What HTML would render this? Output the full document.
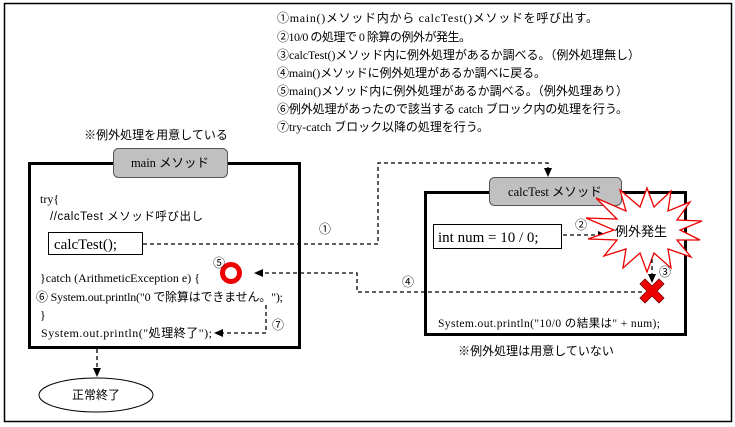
<!DOCTYPE html>
<html><head><meta charset="utf-8">
<style>
html,body{margin:0;padding:0;background:#fff;}
svg{display:block;}
.s{font-family:"Liberation Serif","Noto Sans CJK JP",serif;}
.g{font-family:"Liberation Sans","Noto Sans CJK JP",sans-serif;}
</style></head>
<body>
<svg width="735" height="427" viewBox="0 0 735 427" xmlns="http://www.w3.org/2000/svg">
<rect x="0" y="0" width="735" height="427" fill="#fff"/>
<rect x="4.5" y="3.5" width="727" height="418" fill="none" stroke="#000" stroke-width="1.5"/>

<!-- numbered list -->
<g class="s" font-size="12" fill="#000">
<text x="277" y="22" textLength="321" lengthAdjust="spacing">①main()メソッド内から calcTest()メソッドを呼び出す。</text>
<text x="277" y="41" textLength="194" lengthAdjust="spacing">②10/0 の処理で 0 除算の例外が発生。</text>
<text x="277" y="59" textLength="363" lengthAdjust="spacing">③calcTest()メソッド内に例外処理があるか調べる。（例外処理無し）</text>
<text x="277" y="77" textLength="269" lengthAdjust="spacing">④main()メソッドに例外処理があるか調べに戻る。</text>
<text x="277" y="95" textLength="351" lengthAdjust="spacing">⑤main()メソッド内に例外処理があるか調べる。（例外処理あり）</text>
<text x="277" y="113" textLength="351" lengthAdjust="spacing">⑥例外処理があったので該当する catch ブロック内の処理を行う。</text>
<text x="277" y="131" textLength="212" lengthAdjust="spacing">⑦try-catch ブロック以降の処理を行う。</text>
</g>

<text class="g" x="156" y="139" font-size="12" text-anchor="middle">※例外処理を用意している</text>

<!-- main box -->
<rect x="29.5" y="163.5" width="270" height="184" fill="none" stroke="#000" stroke-width="3"/>
<rect x="113.5" y="148.5" width="114" height="29" rx="5" fill="#c0c0c0" stroke="#555" stroke-width="1"/>
<text class="s" x="170" y="167" font-size="12.5" text-anchor="middle">main メソッド</text>

<g class="s" font-size="12" fill="#000">
<text x="40" y="203">try{</text>
<text class="g" x="50" y="220" font-size="11.5" textLength="153" lengthAdjust="spacing">//calcTest メソッド呼び出し</text>
<text x="40" y="282" textLength="160" lengthAdjust="spacing">}catch (ArithmeticException e) {</text>
<text x="36" y="301" textLength="247" lengthAdjust="spacing">⑥ System.out.println("0 で除算はできません。");</text>
<text x="40" y="319">}</text>
<text x="41" y="337" textLength="171" lengthAdjust="spacing">System.out.println("処理終了");</text>
</g>
<rect x="48.5" y="232.5" width="94" height="22" fill="#fff" stroke="#000" stroke-width="1"/>
<text class="s" x="54" y="249" font-size="15">calcTest();</text>

<!-- red O -->
<circle cx="231" cy="273" r="8.5" fill="none" stroke="#e00" stroke-width="5"/>
<text class="s" x="219" y="267" font-size="12" text-anchor="middle">⑤</text>

<!-- arrow 7 -->
<path d="M266 305 V333 H222" fill="none" stroke="#000" stroke-width="1.3" stroke-dasharray="4 3"/>
<polygon points="214,333 223,329 223,337" fill="#000"/>
<text class="s" x="278" y="329" font-size="12" text-anchor="middle">⑦</text>

<!-- down arrow to end -->
<path d="M97 349 V368" fill="none" stroke="#000" stroke-width="1.3" stroke-dasharray="4 3"/>
<polygon points="97,377 93,368 101,368" fill="#000"/>
<ellipse cx="96" cy="395" rx="57" ry="17" fill="#fff" stroke="#000" stroke-width="1"/>
<text class="g" x="96" y="399" font-size="12" text-anchor="middle">正常終了</text>

<!-- line 1 -->
<path d="M143 244 H378 V163 H548 V169" fill="none" stroke="#000" stroke-width="1.3" stroke-dasharray="4 3"/>
<polygon points="548,177 544,168 552,168" fill="#000"/>
<text class="s" x="325" y="233" font-size="12" text-anchor="middle">①</text>

<!-- calcTest box -->
<rect x="425.5" y="192.5" width="260" height="142" fill="none" stroke="#000" stroke-width="3"/>
<rect x="489.5" y="177.5" width="132" height="28" rx="5" fill="#c0c0c0" stroke="#555" stroke-width="1"/>
<text class="s" x="555" y="196" font-size="12.5" text-anchor="middle">calcTest メソッド</text>

<rect x="433.5" y="224.5" width="128" height="24" fill="#fff" stroke="#000" stroke-width="1"/>
<text class="s" x="438" y="242" font-size="15">int num = 10 / 0;</text>

<!-- arrow 2 -->
<path d="M563 235 H598" fill="none" stroke="#000" stroke-width="1.3" stroke-dasharray="4 3"/>
<polygon points="607,235 598,231 598,239" fill="#000"/>
<text class="s" x="581" y="229" font-size="12" text-anchor="middle">②</text>

<!-- star burst -->
<polygon points="647,188 654,207 671,191 668,211 690,202 677,220 702,221 680,230 700,240 677,240 691,257 668,249 671,268 654,253 647,272 640,253 623,268 626,249 604,256 617,240 588,239 614,230 586,218 617,219 596,198 626,211 620,190 640,207" fill="#fff" stroke="#e00" stroke-width="1.3"/>
<text class="g" x="641" y="236" font-size="13" text-anchor="middle">例外発生</text>

<!-- arrow 3 -->
<path d="M652 259 V275" fill="none" stroke="#000" stroke-width="1.3" stroke-dasharray="4 3"/>
<polygon points="652,283 648,274 656,274" fill="#000"/>
<text class="s" x="665" y="276" font-size="12" text-anchor="middle">③</text>

<!-- line 4 -->
<path d="M642 292 H357 V273 H263" fill="none" stroke="#000" stroke-width="1.3" stroke-dasharray="4 3"/>
<polygon points="254,273 263,269 263,277" fill="#000"/>
<text class="s" x="408" y="286" font-size="12" text-anchor="middle">④</text>

<!-- red X -->
<polygon transform="translate(652,291)" points="0,-5 7,-12 12,-7 5,0 12,7 7,12 0,5 -7,12 -12,7 -5,0 -12,-7 -7,-12" fill="#e00" stroke="#700" stroke-width="0.8"/>

<text class="s" x="438" y="327" font-size="11.5" textLength="222" lengthAdjust="spacing">System.out.println("10/0 の結果は" + num);</text>
<text class="g" x="536" y="355" font-size="12" text-anchor="middle">※例外処理は用意していない</text>
</svg>
</body></html>
